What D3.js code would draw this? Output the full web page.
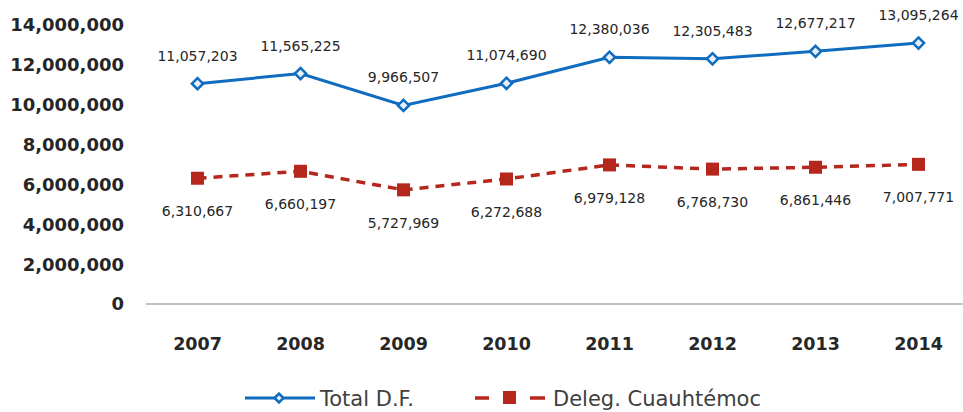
<!DOCTYPE html>
<html><head><meta charset="utf-8">
<script src="https://cdn.jsdelivr.net/npm/d3@7"></script>
<style>body{margin:0;background:#fff}svg{display:block}</style>
</head><body>
<script>
const years = ["2007","2008","2009","2010","2011","2012","2013","2014"];
const totalDF = [11057203,11565225,9966507,11074690,12380036,12305483,12677217,13095264];
const cuauhtemoc = [6310667,6660197,5727969,6272688,6979128,6768730,6861446,7007771];
const yTicks = [0,2000000,4000000,6000000,8000000,10000000,12000000,14000000];
const seriesNames = ["Total D.F.","Deleg. Cuauhtémoc"];

const W=963,H=412;
const blue="#0f6cbf", red="#b5261d", txt="#262626";
const svg=d3.select("body").append("svg").attr("width",W).attr("height",H);
const x=d3.scaleBand().domain(years).range([146,970]).padding(0);
const y=d3.scaleLinear().domain([0,14000000]).range([304,25]);
const cx=d=>x(d)+x.bandwidth()/2;
const fmt=d3.format(",");

// baseline
svg.append("line").attr("x1",146).attr("x2",963).attr("y1",y(0)).attr("y2",y(0))
  .attr("stroke","#868686").attr("stroke-width",1);

// y labels
svg.append("g").selectAll("text").data(yTicks).join("text")
  .attr("x",124).attr("y",d=>y(d)).attr("dy","0.36em").attr("text-anchor","end")
  .attr("font-family","DejaVu Sans").attr("font-weight","bold").attr("font-size",18)
  .attr("fill",txt).text(d=>fmt(d));

// x labels
svg.append("g").selectAll("text").data(years).join("text")
  .attr("x",d=>cx(d)).attr("y",344).attr("dy","0.36em").attr("text-anchor","middle")
  .attr("font-family","DejaVu Sans").attr("font-weight","bold").attr("font-size",17.5)
  .attr("fill",txt).text(d=>d);

const line=d3.line().x((d,i)=>cx(years[i])).y(d=>y(d));

// red series
svg.append("path").attr("d",line(cuauhtemoc)).attr("fill","none").attr("stroke",red)
  .attr("stroke-width",3.5).attr("stroke-dasharray","9,7");
svg.append("g").selectAll("rect").data(cuauhtemoc).join("rect")
  .attr("x",(d,i)=>cx(years[i])-6.5).attr("y",d=>y(d)-6.5).attr("width",13).attr("height",13)
  .attr("fill",red);
svg.append("g").selectAll("text").data(cuauhtemoc).join("text")
  .attr("x",(d,i)=>cx(years[i])).attr("y",d=>y(d)+33).attr("dy","0.36em").attr("text-anchor","middle")
  .attr("font-family","DejaVu Sans").attr("font-size",14).attr("fill",txt).text(d=>fmt(d));

// blue series
svg.append("path").attr("d",line(totalDF)).attr("fill","none").attr("stroke",blue).attr("stroke-width",3);
const diamond=d3.symbol().type(d3.symbolDiamond2).size(80);
svg.append("g").selectAll("path").data(totalDF).join("path")
  .attr("transform",(d,i)=>`translate(${cx(years[i])},${y(d)})`).attr("d",diamond)
  .attr("fill","#e8f1fb").attr("stroke",blue).attr("stroke-width",2.5);
svg.append("g").selectAll("text").data(totalDF).join("text")
  .attr("x",(d,i)=>cx(years[i])).attr("y",d=>y(d)-28).attr("dy","0.36em").attr("text-anchor","middle")
  .attr("font-family","DejaVu Sans").attr("font-size",14).attr("fill",txt).text(d=>fmt(d));

// legend
const ly=398;
const lg=svg.append("g");
lg.append("line").attr("x1",245).attr("x2",315).attr("y1",ly).attr("y2",ly).attr("stroke",blue).attr("stroke-width",3);
lg.append("path").attr("transform",`translate(279,${ly})`).attr("d",d3.symbol().type(d3.symbolDiamond2).size(50))
  .attr("fill","#e8f1fb").attr("stroke",blue).attr("stroke-width",2.5);
lg.append("text").attr("x",320).attr("y",ly).attr("dy","0.36em").attr("font-family","DejaVu Sans")
  .attr("font-size",21).attr("fill","#404040").text(seriesNames[0]);
lg.append("line").attr("x1",475).attr("x2",489).attr("y1",ly).attr("y2",ly).attr("stroke",red).attr("stroke-width",3.5);
lg.append("rect").attr("x",503).attr("y",ly-7).attr("width",13).attr("height",13).attr("fill",red);
lg.append("line").attr("x1",530).attr("x2",545).attr("y1",ly).attr("y2",ly).attr("stroke",red).attr("stroke-width",3.5);
lg.append("text").attr("x",553).attr("y",ly).attr("dy","0.36em").attr("font-family","DejaVu Sans")
  .attr("font-size",21).attr("fill","#404040").text(seriesNames[1]);
</script>
</body></html>
